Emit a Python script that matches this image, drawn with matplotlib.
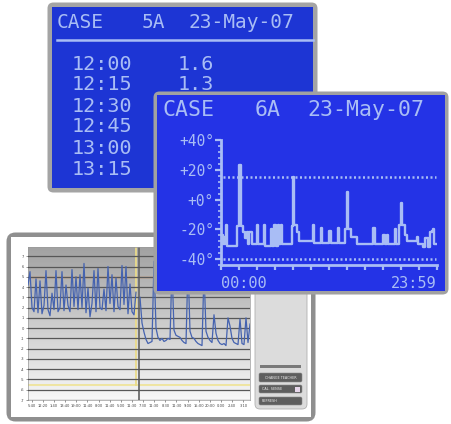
import numpy as np
import matplotlib.pyplot as plt
from matplotlib.patches import FancyBboxPatch, Rectangle
from matplotlib.colors import LinearSegmentedColormap

# ---- data -------------------------------------------------------------
back_times = ["12:00", "12:15", "12:30", "12:45", "13:00", "13:15"]
back_values = ["1.6", "1.3"]

lcd_hours = [0.00, 0.11, 0.26, 0.41, 0.56, 0.71, 1.82, 2.05, 2.20, 2.49,
             2.72, 2.87, 3.01, 3.16, 3.39, 3.98, 4.13, 4.73, 4.87, 5.54,
             5.69, 5.92, 6.07, 6.29, 6.44, 6.66, 6.81, 7.85, 8.00, 8.15,
             8.40, 8.63, 10.23, 10.38, 11.13, 11.27, 12.02, 12.17, 12.99, 13.13,
             13.80, 13.95, 14.10, 14.40, 15.14, 16.93, 17.08, 18.05, 18.20, 18.42,
             18.57, 19.31, 19.46, 19.83, 19.98, 20.13, 20.40, 20.72, 21.77, 21.92,
             22.40, 22.66, 23.03, 23.18, 23.40, 23.55, 23.70, 23.92]
lcd_temps = [-28, -24, -30, -25, -17, -31, -18, 23, -18, -22,
             -26, -22, -30, -22, -30, -17, -30, -17, -31, -20,
             -31, -17, -31, -17, -30, -17, -30, -18, 15, -17,
             -22, -28, -17, -29, -19, -29, -21, -29, -19, -29,
             -20, 5, -20, -25, -30, -19, -30, -24, -30, -24,
             -30, -20, -30, -17, -2, -17, -24, -28, -25, -30,
             -32, -26, -32, -22, -21, -20, -30, -30]
lcd_high = 15
lcd_low = -40

sc_yticks = list(range(-7, 8))
sc_xlabels = ["5:40", "12:20", "1:40", "13:40", "19:00", "11:40", "8:00", "11:40",
              "5:00", "11:30", "7:30", "11:30", "8:30", "11:30", "9:00", "15:00",
              "20:00", "0:00", "2:40", "3:10"]
left_vals = [4.2, 5.5, 2.0, 1.6, 4.8, 1.5, 4.6, 1.4, 2.2, 5.6, 1.8, 1.2, 3.4, 1.8,
             5.6, 1.6, 2.0, 5.5, 1.7, 4.2, 2.2, 1.6, 5.7, 2.1, 5.0, 1.8, 5.2, 2.0,
             6.3, 1.5, 3.9, 1.1, 2.4, 5.6, 1.6, 5.8, 2.0, 1.8, 3.8, 1.7, 6.0, 2.4,
             5.2, 1.6, 4.9, 2.1, 1.8, 6.1, 2.3, 6.0, 1.4, 4.3, 1.6, 1.3, 3.5]
right_vals = [3.0, 0.5, -0.4, -1.1, -1.5, -1.4, -1.3, 6.5, 0.0, -0.9, -1.2, -1.0,
              -1.3, -1.2, -1.0, -1.1, 6.0, -0.2, -0.7, -0.8, -0.9, -1.2, -1.4, -1.5,
              6.2, -0.3, -0.9, -1.0, -1.3, -1.5, -1.6, -1.7, 5.5, -0.3, -0.9, -1.2,
              -1.4, 1.3, -0.5, -1.2, -1.5, -1.6, -1.5, -1.7, 1.0, 0.2, -1.0, -1.4,
              -1.5, -1.6, 0.9, -1.5, -1.6, 1.0, -1.4, 0.4]
left_x = np.arange(len(left_vals)) * 2
right_x = 112 + np.arange(len(right_vals)) * 2
switch_x = 108
split_x = 111
orange_level = 5.0
yellow_level = -5.5

# ---- figure -----------------------------------------------------------
W, H = 452, 424
fig = plt.figure(figsize=(W / 100, H / 100), dpi=100)
fig.patch.set_facecolor("white")

FG = "#a9bdf5"
MONO = "DejaVu Sans Mono"


def px_axes(x0, y0, x1, y1, z):
    return fig.add_axes([x0 / W, 1 - y1 / H, (x1 - x0) / W, (y1 - y0) / H], zorder=z)


def frame(x0, y0, x1, y1, z, border, inner, pad, r):
    ax = px_axes(x0, y0, x1, y1, z)
    ax.set_xlim(x0, x1)
    ax.set_ylim(y1, y0)
    ax.axis("off")
    ax.add_patch(FancyBboxPatch((x0 + 0.5, y0 + 0.5), x1 - x0 - 1, y1 - y0 - 1,
                                boxstyle=f"round,pad=0,rounding_size={r}",
                                fc=border, ec="none"))
    ax.add_patch(Rectangle((x0 + pad, y0 + pad), x1 - x0 - 2 * pad, y1 - y0 - 2 * pad,
                           fc=inner, ec="none"))
    return ax


# back LCD (table)
a1 = frame(47, 2, 318, 193, 1, "#a4a4a4", "#1d35d4", 5, 6)
for s, x in [("CASE", 57), ("5A", 142), ("23-May-07", 189)]:
    a1.text(x, 22, s, color=FG, family=MONO, fontsize=14, va="center")
a1.plot([57, 313], [40, 40], color=FG, lw=1.8)
rows_y = [65, 85, 106, 127, 148, 169]
for t, y in zip(back_times, rows_y):
    a1.text(72, y, t, color=FG, family=MONO, fontsize=14.5, va="center")
for v, y in zip(back_values, rows_y):
    a1.text(178, y, v, color=FG, family=MONO, fontsize=14.5, va="center")

# screenshot chart
a3 = frame(6, 232, 316, 422, 2, "#8f8f8f", "white", 5, 9)
a3.add_patch(FancyBboxPatch((255, 250), 52, 159, boxstyle="round,pad=0,rounding_size=5",
                            fc="#dcdcdc", ec="#b0b0b0", lw=0.6))
a3.add_patch(Rectangle((260, 365), 41, 3, fc="#7a7a7a", ec="none"))
buttons = [("CHANGE TEACHER", 373, 9), ("CAL. SENSE", 385, 8), ("REFRESH", 397, 8)]
for i, (lab, y, h) in enumerate(buttons):
    a3.add_patch(FancyBboxPatch((259, y), 43, h, boxstyle="round,pad=0,rounding_size=1.5",
                                fc="#5e5e5e", ec="#8a8a8a", lw=0.4))
    a3.text(280.5 if i == 0 else 262, y + h / 2, lab, color="#eeeeee", fontsize=2.4,
            ha="center" if i == 0 else "left", va="center")
a3.add_patch(Rectangle((295, 386.5), 5, 5, fc="#e6d6ea", ec="none"))

ac = px_axes(28, 247, 250, 400, 3)
ylo, yhi = -7.0, 7.9
ac.set_xlim(0, 222)
ac.set_ylim(ylo, yhi)
grad = LinearSegmentedColormap.from_list("g", ["#a2a2a2", "#f7f7f7"])
ac.imshow(np.linspace(0, 1, 200).reshape(-1, 1), cmap=grad, aspect="auto",
          extent=[0, 222, ylo, yhi], zorder=0)
ac.set_yticks(sc_yticks)
ac.set_yticklabels([str(v) for v in sc_yticks])
ac.set_xticks(np.linspace(3.7, 215.3, len(sc_xlabels)))
ac.set_xticklabels(sc_xlabels)
ac.tick_params(labelsize=2.6, length=1.2, width=0.4, pad=1.5, colors="#444444")
ac.grid(axis="y", color="#575757", lw=0.9)
ac.set_axisbelow(False)
for sp in ac.spines.values():
    sp.set_color("#9a9a9a")
    sp.set_linewidth(0.5)
ac.axhline(orange_level, color="#d98b55", lw=1.0, zorder=2)
ac.axhline(yellow_level, color="#efe28c", lw=1.1, zorder=2)
ac.plot([switch_x, switch_x], [yellow_level, yhi], color="#eadb8a", lw=1.3, zorder=2)
ac.axvline(split_x, color="#6c6c6c", lw=1.3, zorder=2)
ac.plot(left_x, left_vals, color="#4563b0", lw=0.9, zorder=3)
ac.plot(right_x, right_vals, color="#4563b0", lw=0.9, zorder=3)

# front LCD (graph)
a2 = frame(153, 91, 449, 295, 5, "#a1a1a1", "#2433e6", 4, 6)
for s, x in [("CASE", 163), ("6A", 255), ("23-May-07", 307)]:
    a2.text(x, 110, s, color=FG, family=MONO, fontsize=15.5, va="center")

g = px_axes(221, 140, 437, 265, 6)
g.patch.set_alpha(0)
g.set_xlim(0, 24)
g.set_ylim(-44, 40)
for k in ["top", "right"]:
    g.spines[k].set_visible(False)
for k in ["left", "bottom"]:
    g.spines[k].set_color(FG)
    g.spines[k].set_linewidth(2)
g.set_yticks([-40, -20, 0, 20, 40])
g.set_yticklabels(["-40°", "-20°", "+0°", "+20°", "+40°"], family=MONO)
g.set_yticks(np.arange(-44, 41, 4), minor=True)
g.set_xticks(np.arange(0, 25, 2))
g.set_xticklabels([])
g.tick_params(axis="y", which="major", colors=FG, length=4, width=1.6, labelsize=10.5, pad=1)
g.tick_params(axis="y", which="minor", colors=FG, length=2.5, width=1.2)
g.tick_params(axis="x", colors=FG, length=3.5, width=1.6)
g.plot(lcd_hours, lcd_temps, drawstyle="steps-post", color=FG, lw=1.7)
for lv in [lcd_high, lcd_low]:
    g.plot([0.2, 23.9], [lv, lv], color=FG, lw=1.8, ls=(0, (0.8, 1.0)))
g.text(0, -0.15, "00:00", transform=g.transAxes, color=FG, family=MONO,
       fontsize=11, ha="left", va="center")
g.text(1.0, -0.15, "23:59", transform=g.transAxes, color=FG, family=MONO,
       fontsize=11, ha="right", va="center")

fig.savefig("out.png", dpi=100)
